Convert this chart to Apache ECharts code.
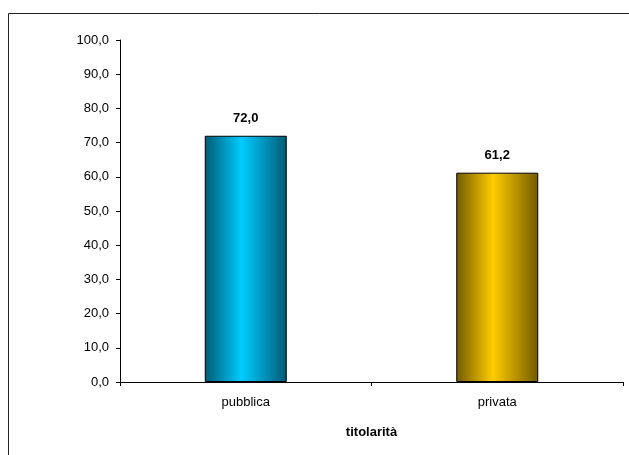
<!DOCTYPE html>
<html><head><meta charset="utf-8">
<script src="https://cdn.jsdelivr.net/npm/echarts@6/dist/echarts.min.js"></script>
<style>html,body{margin:0;padding:0;background:#fff}#c{width:629px;height:455px}</style>
</head><body><div id="c"></div>
<script>
const categories = ['pubblica', 'privata'];
const values = [72.0, 61.2];
const yTicks = [0, 100, 10];
const axisTitle = 'titolarità';

function grad(edge, mid) {
  return new echarts.graphic.LinearGradient(0, 0, 1, 0, [
    {offset: 0, color: edge}, {offset: 0.45, color: mid}, {offset: 1, color: edge}
  ]);
}
const colors = [grad('#005a75', '#00ccff'), grad('#725a00', '#ffcc00')];
const fmt = v => v.toFixed(1).replace('.', ',');
const font = '"Liberation Sans", Arial, sans-serif';

const chart = echarts.init(document.getElementById('c'), null, {renderer: 'canvas'});
chart.setOption({
  animation: false,
  backgroundColor: '#fff',
  graphic: [{type: 'rect', shape: {x: 8.5, y: 13.5, width: 700, height: 500},
    style: {fill: 'none', stroke: '#222', lineWidth: 1}, silent: true}],
  grid: {left: 120, right: 6, top: 40, bottom: 73},
  xAxis: {
    type: 'category', data: categories,
    name: axisTitle, nameLocation: 'middle', nameGap: 44,
    nameTextStyle: {fontFamily: font, fontWeight: 'bold', fontSize: 13, color: '#000'},
    axisLine: {lineStyle: {color: '#000', width: 1}},
    axisTick: {show: true, length: 4, lineStyle: {color: '#000'}},
    axisLabel: {fontFamily: font, fontSize: 13, color: '#000', margin: 14}
  },
  yAxis: {
    type: 'value', min: yTicks[0], max: yTicks[1], interval: yTicks[2],
    axisLine: {show: true, lineStyle: {color: '#000', width: 1}},
    axisTick: {show: true, length: 4, lineStyle: {color: '#000'}},
    splitLine: {show: false},
    axisLabel: {fontFamily: font, fontSize: 13, color: '#000', margin: 11, formatter: v => fmt(v)}
  },
  series: [{
    type: 'bar', barWidth: 82,
    data: values.map((v, i) => ({value: v, itemStyle: {color: colors[i]}})),
    itemStyle: {borderColor: '#000', borderWidth: 1},
    label: {show: true, position: 'top', distance: 11, fontFamily: font, fontWeight: 'bold',
      fontSize: 13, color: '#000', formatter: p => fmt(p.value)}
  }]
});
</script></body></html>
